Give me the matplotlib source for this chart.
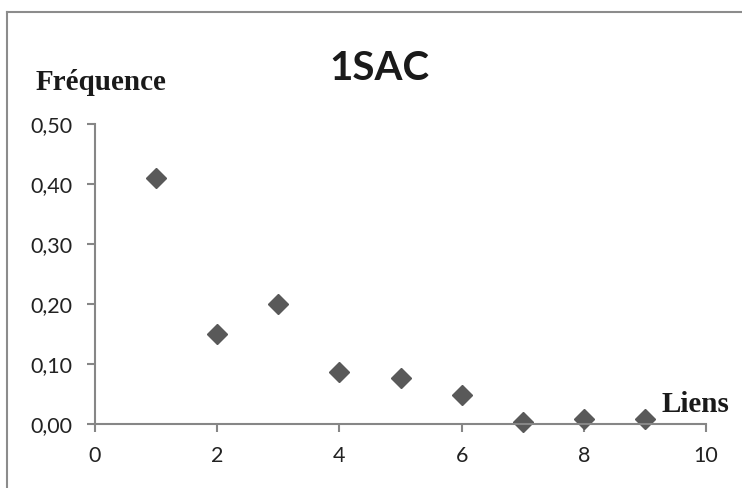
import matplotlib
matplotlib.use("Agg")
import matplotlib.pyplot as plt
from matplotlib.lines import Line2D

# donnees
liens = [1, 2, 3, 4, 5, 6, 7, 8, 9]
frequence = [0.41, 0.15, 0.20, 0.087, 0.077, 0.048, 0.004, 0.009, 0.009]
yticks = [0.0, 0.1, 0.2, 0.3, 0.4, 0.5]
xticks = [0, 2, 4, 6, 8, 10]

gris_axe = "#868686"

fig = plt.figure(figsize=(7.42, 4.88), dpi=100)
ax = fig.add_axes([95 / 742, 1 - 424 / 488, 611 / 742, 300 / 488])

ax.plot(liens, frequence, linestyle="none", marker="D", markersize=10.2,
        color="#595959", clip_on=False)

ax.set_xlim(0, 10)
ax.set_ylim(0, 0.5)
ax.set_xticks(xticks)
ax.set_yticks(yticks)
ax.set_yticklabels([f"{v:.2f}".replace(".", ",") for v in yticks])
ax.set_xticklabels([str(v) for v in xticks])

for s in ["top", "right"]:
    ax.spines[s].set_visible(False)
for s in ["left", "bottom"]:
    ax.spines[s].set_color(gris_axe)
    ax.spines[s].set_linewidth(1.5)
ax.tick_params(direction="out", length=6, width=1.5, color=gris_axe,
               labelsize=15.5, labelcolor="#222222", pad=10)
for lab in ax.get_xticklabels() + ax.get_yticklabels():
    lab.set_family("Lato")

# titre et etiquettes d'axes
fig.text(379 / 742, 1 - 68 / 488, "1SAC", ha="center", va="center",
         fontsize=29, fontweight="bold", family="Lato", color="#1a1a1a")
fig.text(36 / 742, 1 - 82 / 488, "Fréquence", ha="left", va="center",
         fontsize=21, fontweight="bold", family="Liberation Serif", color="#1a1a1a")
fig.text(662 / 742, 1 - 404 / 488, "Liens", ha="left", va="center",
         fontsize=21, fontweight="bold", family="Liberation Serif", color="#1a1a1a")

# cadre du graphique (haut et gauche)
fig.add_artist(Line2D([7 / 742, 7 / 742], [0, 1 - 12 / 488], color="#8c8c8c", lw=1.5))
fig.add_artist(Line2D([7 / 742, 1], [1 - 12 / 488, 1 - 12 / 488], color="#8c8c8c", lw=1.5))

fig.savefig("out.png", dpi=100)
